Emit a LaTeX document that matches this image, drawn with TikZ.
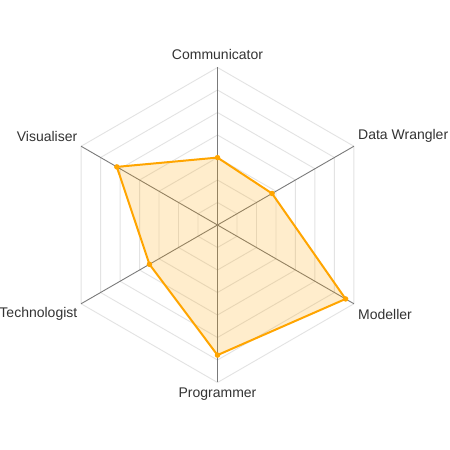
\documentclass[tikz,border=0pt]{standalone}
\usepackage{fontspec}
\setmainfont{Liberation Sans}
\usetikzlibrary{calc}
\definecolor{gridc}{HTML}{E3E3E3}
\definecolor{axisc}{HTML}{7A7A7A}
\definecolor{dataor}{HTML}{FFA500}
\definecolor{labc}{HTML}{333333}
\begin{document}
\begin{tikzpicture}[x=1pt,y=1pt,
  gridline/.style={draw=gridc,line width=0.9pt},
  axisline/.style={draw=axisc,line width=0.9pt},
  serie/.style={draw=dataor,line width=2pt,line join=round,fill=dataor,fill opacity=0.2,draw opacity=1},
  dot/.style={circle,fill=dataor,inner sep=0pt,minimum size=5.5pt},
  lab/.style={text=labc,font=\fontsize{14}{16}\selectfont,inner sep=0pt}]
\useasboundingbox (0,0) rectangle (450,450);
\fill[white] (0,0) rectangle (450,450);
\coordinate (c) at (217.5,225);
\def\R{157.5}
% grid rings
\foreach \k in {1,...,7}{
  \draw[gridline] ($(c)+(90:\k*\R/7)$) \foreach \a in {30,-30,-90,210,150}{ -- ($(c)+(\a:\k*\R/7)$)} -- cycle;
}
% axis ends
\coordinate (eCom) at ($(c)+(90:\R)$);
\coordinate (eDW) at ($(c)+(30:\R)$);
\coordinate (eMod) at ($(c)+(-30:\R)$);
\coordinate (ePro) at ($(c)+(-90:\R)$);
\coordinate (eTec) at ($(c)+(210:\R)$);
\coordinate (eVis) at ($(c)+(150:\R)$);
\foreach \e in {eCom,eDW,eMod,ePro,eTec,eVis}{\draw[axisline] (c) -- (\e);}
% data
\coordinate (pCom) at ($(c)+(90:0.428*\R)$);
\coordinate (pDW) at ($(c)+(30:0.40*\R)$);
\coordinate (pMod) at ($(c)+(-30:0.939*\R)$);
\coordinate (pPro) at ($(c)+(-90:0.826*\R)$);
\coordinate (pTec) at ($(c)+(210:0.499*\R)$);
\coordinate (pVis) at ($(c)+(150:0.738*\R)$);
\draw[serie] (pCom) -- (pDW) -- (pMod) -- (pPro) -- (pTec) -- (pVis) -- cycle;
\foreach \p in {pCom,pDW,pMod,pPro,pTec,pVis}{\node[dot] (d\p) at (\p) {};}
% labels
\node[lab,anchor=center] (lCom) at (217.5,395) {Communicator};
\node[lab,anchor=east] (lVis) at (77.5,314) {Visualiser};
\node[lab,anchor=west] (lDW) at (358,314) {Data Wrangler};
\node[lab,anchor=west] (lMod) at (358,136) {Modeller};
\node[lab,anchor=east] (lTec) at (77.5,136) {Technologist};
\node[lab,anchor=center] (lPro) at (217.5,55.5) {Programmer};
\end{tikzpicture}
\end{document}
